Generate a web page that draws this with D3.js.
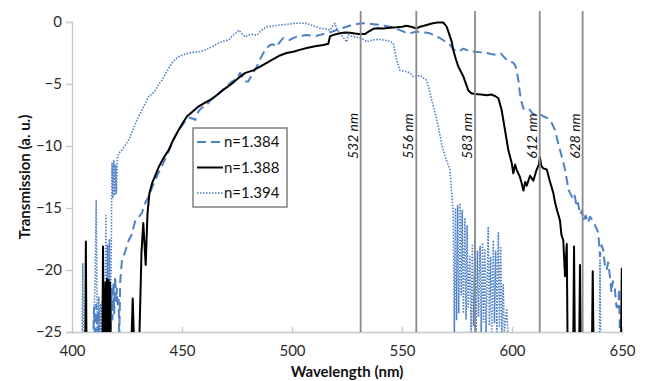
<!DOCTYPE html>
<html>
<head>
<meta charset="utf-8">
<script src="https://cdn.jsdelivr.net/npm/d3@7"></script>
<style>
  body { margin: 0; background: #fff; }
  svg { font-family: Lato, "Open Sans", sans-serif; }
</style>
</head>
<body>
<div id="chart"></div>
<script>
// Transmission spectra, [wavelength nm, transmission a.u.]; values below -25 fall outside the plot
const n1384 = [
  [409.5, -27], [410, -23], [410.5, -25], [411, -22.8], [411.5, -25], [412, -23.2], [412.5, -27],
  [416.8, -27], [417.2, -22], [417.6, -25], [418, -21.5], [418.4, -24], [418.8, -21], [419.2, -23.5],
  [419.6, -20.5], [420, -22.5], [420.4, -21.5], [420.8, -23], [421.2, -22.4], [421.5, -25.5], [421.9, -21],
  [422.7, -19.2], [424, -18.6], [425.8, -17.6], [427, -17.2], [428.8, -16.0], [430, -15.8], [431.8, -15.4],
  [433, -14.7], [434.8, -14.1], [436.5, -13.3], [437.9, -12.7], [439.5, -12.1], [440.9, -11.6], [443, -10.8],
  [445, -10.0], [447, -9.2], [449, -8.6], [451, -8.1], [453, -7.7], [455, -7.8], [456, -7.9], [457.5, -7.2],
  [459, -6.9], [460.6, -6.8], [463.5, -6.2], [466.7, -5.75], [469.5, -5.3], [472.7, -4.8], [475, -4.6],
  [476.4, -4.1], [478.8, -4.8], [480.1, -4.8], [482, -4.2], [484, -3.6], [485.5, -3.0], [487, -2.5],
  [488.5, -2.1], [490, -1.85], [491.5, -1.8], [493, -2.0], [494.5, -1.6], [496, -1.3], [497.5, -1.4],
  [499, -1.45], [500.5, -1.3], [502, -1.2], [504.5, -1.1], [506.7, -1.05], [509, -1.1], [511, -1.13],
  [513.5, -1.0], [515.8, -0.91], [518, -0.8], [520.3, -0.65], [522.5, -0.5], [524.9, -0.38], [527, -0.25],
  [529.4, -0.16], [532, -0.1], [534, -0.11], [537, -0.18], [540, -0.24], [542, -0.3], [544.5, -0.38],
  [547, -0.5], [549, -0.65], [551, -0.8], [553.6, -0.91], [556, -0.8], [558.2, -0.78], [560.5, -0.85],
  [562.7, -0.91], [565, -1.1], [567.3, -1.3], [569.5, -1.55], [571.8, -1.85], [573.5, -2.2], [574.8, -2.4],
  [576.5, -2.3], [577.8, -2.15], [579.4, -2.26], [581, -2.35], [583.2, -2.4], [586, -2.45], [588.5, -2.5],
  [591, -2.6], [593, -2.66], [595, -2.55], [596, -2.75], [597.6, -3.06], [599, -3.15], [600.6, -3.3],
  [601.5, -3.5], [602.1, -3.9], [603, -4.8], [603.6, -5.75], [604.4, -6.5], [605.2, -7.0], [606.5, -6.9],
  [608.2, -7.1], [609.5, -7.4], [611.2, -7.5], [612.5, -7.4], [614.2, -7.6], [615.5, -7.7], [617.3, -7.9],
  [618.5, -8.3], [619.5, -8.7], [620.6, -9.5], [621.8, -10.3], [623, -11.1], [624.1, -11.9], [625, -12.8],
  [625.6, -13.5], [626.4, -13.8], [627.9, -14.3], [628.5, -14.0], [629.4, -14.9], [630, -14.6], [631, -15.5],
  [631.8, -15.2], [632.4, -16.0], [633.5, -15.6], [634.5, -16.2], [635.5, -15.7], [636.9, -16.1], [638, -16.5],
  [639.2, -17.0], [640, -18.9], [640.7, -18.0], [641.5, -18.4], [642.2, -19.6], [643, -20.0], [643.7, -19.4],
  [644.5, -20.5], [645.2, -21.8], [645.8, -20.9], [646.8, -21.6], [647.5, -23.0], [648.3, -23.0],
  [648.7, -21.5], [649, -25], [649.5, -27]
];

const n1388 = [
  [404, -27], [406, -27], [406.3, -17.7], [406.6, -27], [413.8, -27], [414.1, -18.1], [414.4, -27],
  [415.2, -21], [415.5, -27], [415.9, -20.7], [416.2, -27], [416.6, -20.8], [416.9, -27], [417.3, -21],
  [417.6, -27], [426.8, -27], [427.6, -22.3], [428.4, -27], [430.4, -27], [431.6, -18.5], [432.4, -16.2],
  [433.5, -19.6], [434.3, -15.5], [435.2, -13.8], [436.4, -13.0], [437.8, -12.4], [439.4, -11.7],
  [441.5, -11.0], [444, -10.3], [446, -9.5], [448.5, -8.7], [450.5, -8.1], [452.3, -7.6], [455, -7.2],
  [457.6, -6.8], [460.5, -6.5], [463.6, -6.2], [466.5, -5.8], [469.7, -5.35], [472.5, -5.0], [475.8, -4.5],
  [478.8, -4.1], [482.4, -3.9], [485.5, -3.6], [488.5, -3.3], [491.5, -3.0], [494.5, -2.7], [497.5, -2.5],
  [500.6, -2.4], [503.5, -2.25], [506.7, -2.1], [510.5, -1.95], [514.2, -1.85], [516.5, -1.75],
  [517.3, -1.15], [519.5, -1.0], [521.8, -0.91], [524, -0.85], [526.4, -0.86], [528.5, -0.92],
  [530.2, -0.97], [533.2, -0.97], [535, -0.75], [537, -0.55], [539, -0.5], [541.5, -0.52], [544.5, -0.46],
  [547.6, -0.43], [550, -0.38], [552.1, -0.3], [554.5, -0.4], [556.7, -0.52], [558.2, -0.38],
  [561.2, -0.24], [563.5, -0.12], [565.8, -0.05], [568.8, -0.05], [570.3, -0.38], [571.5, -1.0],
  [572.6, -1.6], [573.3, -2.26], [574.5, -3.0], [575.6, -3.6], [577.9, -4.4], [580.1, -5.5], [581.5, -5.75],
  [583.2, -5.8], [586, -5.85], [588.5, -5.9], [590.5, -5.85], [592.3, -5.97], [593.8, -6.15], [595.3, -7.1],
  [596.8, -8.7], [598.3, -10.3], [599.9, -11.4], [600.6, -12.2], [601.4, -11.5], [602.1, -11.9],
  [603.6, -12.5], [604.4, -13.0], [605.2, -13.6], [606, -12.9], [606.7, -13.2], [608.2, -12.4],
  [609.7, -12.8], [611.2, -11.9], [612.2, -11.5], [612.7, -10.9], [613.3, -11.6], [614.2, -11.8],
  [615.8, -11.9], [617.3, -12.9], [618.8, -13.8], [619.5, -14.5], [620.5, -15.2], [621.8, -16.0],
  [622.5, -17.2], [623.3, -17.6], [624.1, -20.5], [624.9, -17.9], [625.3, -27], [627.8, -27],
  [628.2, -18.1], [628.6, -27], [630.5, -27], [630.9, -19.6], [631.3, -27], [636.3, -27], [636.7, -20.1],
  [637.1, -27], [649.5, -27], [649.9, -19.9], [650, -27]
];

const n1394 = [
  [403.5, -27], [404.6, -25], [404.9, -19.5], [405.2, -25], [405.6, -27], [409.6, -27], [410, -23.5],
  [410.5, -21], [411, -14.4], [411.4, -23], [411.8, -25], [412.2, -22.2], [412.6, -25], [413, -22.8],
  [413.4, -25], [413.8, -22.5], [414.2, -25], [414.6, -21.8], [415, -25], [415.4, -15.6], [415.8, -25],
  [416.2, -18], [416.6, -25], [417, -17.5], [417.4, -24.5], [417.8, -19], [418.2, -11.4], [418.6, -14.2],
  [419, -11.2], [419.4, -14], [419.8, -11.5], [420.2, -13.8], [420.6, -11.0], [421.2, -10.6],
  [422.7, -10.3], [424, -10.0], [425.8, -9.5], [427.5, -8.8], [428.8, -8.2], [430, -7.7], [431.8, -7.1],
  [433.5, -6.5], [434.8, -6.0], [436.5, -5.8], [437.9, -5.5], [439.5, -5.0], [440.9, -4.7], [443, -4.0],
  [445.5, -3.3], [447, -3.0], [448.5, -2.8], [450.5, -2.65], [453, -2.5], [455, -2.45], [457.6, -2.4],
  [460, -2.3], [463.6, -2.0], [465, -1.85], [466.7, -1.7], [469, -1.55], [471.2, -1.45], [473, -1.1],
  [474.5, -0.9], [475.8, -0.65], [477.5, -1.0], [478.8, -1.2], [480.5, -1.05], [482, -1.0], [484, -1.05],
  [486, -0.7], [488.5, -0.38], [491, -0.35], [494.5, -0.24], [497.5, -0.2], [500.6, -0.11], [503.5, -0.1],
  [506.7, -0.11], [509.5, -0.3], [512.7, -0.51], [515, -0.55], [517.3, -0.65], [518.5, -0.3],
  [519.5, -0.11], [520.5, -0.6], [521.8, -0.91], [523.5, -1.3], [524.9, -1.6], [525.6, -1.05],
  [527.5, -1.15], [530.9, -1.3], [532.5, -1.4], [534, -1.6], [535.5, -1.5], [537, -1.45], [539, -1.4],
  [541.5, -1.45], [543.5, -1.5], [546, -1.7], [546.8, -2.4], [547.6, -3.06], [549, -3.9], [550.5, -3.95],
  [552.1, -4.0], [553.5, -4.1], [555.1, -4.4], [556.6, -4.4], [558.2, -4.3], [559.6, -4.5], [561.2, -4.7],
  [562.3, -5.4], [563.5, -6.3], [564.7, -7.1], [565.8, -7.9], [567, -8.9], [568, -9.8], [569.2, -10.6],
  [570.3, -11.2], [571.8, -11.9], [572.5, -13.6], [573.3, -15.4], [573.8, -25], [574.3, -15.0],
  [574.8, -24], [575.3, -14.8], [575.8, -23.5], [576.4, -14.6], [576.9, -22], [577.4, -15.2],
  [577.9, -23.5], [578.6, -15.8], [579.1, -24], [579.6, -16.4], [580.1, -23], [580.9, -18.9], [581.4, -25],
  [582, -17.9], [582.5, -24.5], [583.2, -17.6], [583.7, -25], [584.3, -18.5], [584.8, -23.8],
  [585.5, -18.1], [586, -25], [586.6, -17.8], [587.1, -24.2], [587.7, -18.4], [588.2, -25], [589.2, -16.5],
  [589.7, -24.5], [590.3, -19], [590.8, -25], [591.5, -17.6], [592, -24.3], [592.6, -18.5], [593.1, -25],
  [593.8, -17.0], [594.3, -24.6], [594.9, -18.2], [595.4, -25], [596, -21.2], [596.5, -25], [597.6, -23.1],
  [598.1, -25], [598.6, -27], [639.5, -27], [639.8, -25], [640, -19.2], [640.3, -25], [640.6, -27]
];

// laser lines: where each line sits on the wavelength axis, and its label
const markerPos = [531.2, 556.5, 583.2, 612.6, 632.1];
const markerLabels = ['532 nm', '556 nm', '583 nm', '612 nm', '628 nm'];

const xTicks = [400, 450, 500, 550, 600, 650];
const yTicks = [0, -5, -10, -15, -20, -25];

const seriesNames = ['n=1.384', 'n=1.388', 'n=1.394'];

const W = 650, H = 381;
const margin = { top: 22, right: 28, bottom: 49, left: 72 };
const width = W - margin.left - margin.right;
const height = H - margin.top - margin.bottom;

const blue = '#4f81c7';
const styles = [
  { stroke: blue, width: 2, dash: '9,5' },
  { stroke: '#000', width: 2, dash: null },
  { stroke: blue, width: 1.6, dash: '1.5,1.5' }
];

const svg = d3.select('#chart').append('svg')
  .attr('width', W).attr('height', H);

const g = svg.append('g').attr('transform', `translate(${margin.left},${margin.top})`);

const x = d3.scaleLinear().domain([400, 650]).range([0, width]);
const y = d3.scaleLinear().domain([-25, 0]).range([height, 0]);

svg.append('defs').append('clipPath').attr('id', 'plot')
  .append('rect').attr('x', 0).attr('y', -2).attr('width', width).attr('height', height + 2);

// axes
const yAxis = g.append('g')
  .call(d3.axisLeft(y).tickValues(yTicks).tickSize(6).tickPadding(4));
const xAxis = g.append('g').attr('transform', `translate(0,${height})`)
  .call(d3.axisBottom(x).tickValues(xTicks).tickSize(-5).tickPadding(10));
[xAxis, yAxis].forEach(a => {
  a.select('.domain').attr('stroke', '#c8c8c8').attr('stroke-width', 1.3);
  a.selectAll('.tick line').attr('stroke', '#c8c8c8').attr('stroke-width', 1.3);
  a.selectAll('text').attr('fill', '#2b2b2b').attr('font-size', 15).attr('font-family', 'Lato, sans-serif');
});
xAxis.selectAll('.tick').filter(d => d === 400).select('line').remove();
xAxis.selectAll('text').attr('dy', '0.95em');

// series
const line = d3.line().x(d => x(d[0])).y(d => y(d[1]));
const plot = g.append('g').attr('clip-path', 'url(#plot)');
[n1384, n1394, n1388].forEach((data) => {
  const i = [n1384, n1388, n1394].indexOf(data);
  plot.append('path')
    .datum(data)
    .attr('fill', 'none')
    .attr('stroke', styles[i].stroke)
    .attr('stroke-width', styles[i].width)
    .attr('stroke-dasharray', styles[i].dash)
    .attr('stroke-linejoin', 'round')
    .attr('d', line);
});

// vertical marker lines
g.selectAll('.marker')
  .data(markerPos)
  .join('line')
  .attr('class', 'marker')
  .attr('x1', d => x(d)).attr('x2', d => x(d))
  .attr('y1', -11).attr('y2', height)
  .attr('stroke', '#8a8a8a')
  .attr('stroke-width', 1.8);

g.selectAll('.marker-label')
  .data(markerPos)
  .join('text')
  .attr('class', 'marker-label')
  .attr('transform', d => `translate(${x(d) - 3},${y(-9.2)}) rotate(-90)`)
  .attr('text-anchor', 'middle')
  .attr('font-size', 14)
  .attr('font-style', 'italic')
  .attr('fill', '#111')
  .text((d, i) => markerLabels[i]);

// legend
const legend = g.append('g').attr('transform', `translate(${193 - margin.left},${128 - margin.top})`);
legend.append('rect')
  .attr('width', 94).attr('height', 79)
  .attr('fill', '#fff')
  .attr('stroke', '#7f7f7f')
  .attr('stroke-width', 1.5);
seriesNames.forEach((name, i) => {
  const ly = 14 + i * 25.5;
  legend.append('line')
    .attr('x1', 4).attr('x2', 30).attr('y1', ly).attr('y2', ly)
    .attr('stroke', styles[i].stroke)
    .attr('stroke-width', styles[i].width)
    .attr('stroke-dasharray', styles[i].dash);
  legend.append('text')
    .attr('x', 31).attr('y', ly)
    .attr('dy', '0.35em')
    .attr('font-size', 15)
    .attr('fill', '#111')
    .text(name);
});

// axis titles
svg.append('text')
  .attr('transform', `translate(30,${margin.top + height / 2}) rotate(-90)`)
  .attr('text-anchor', 'middle')
  .attr('font-size', 15)
  .attr('font-weight', 'bold')
  .attr('fill', '#111')
  .text('Transmission (a. u.)');

svg.append('text')
  .attr('x', margin.left + width / 2)
  .attr('y', 377)
  .attr('text-anchor', 'middle')
  .attr('font-size', 15)
  .attr('font-weight', 'bold')
  .attr('fill', '#111')
  .text('Wavelength (nm)');
</script>
</body>
</html>
